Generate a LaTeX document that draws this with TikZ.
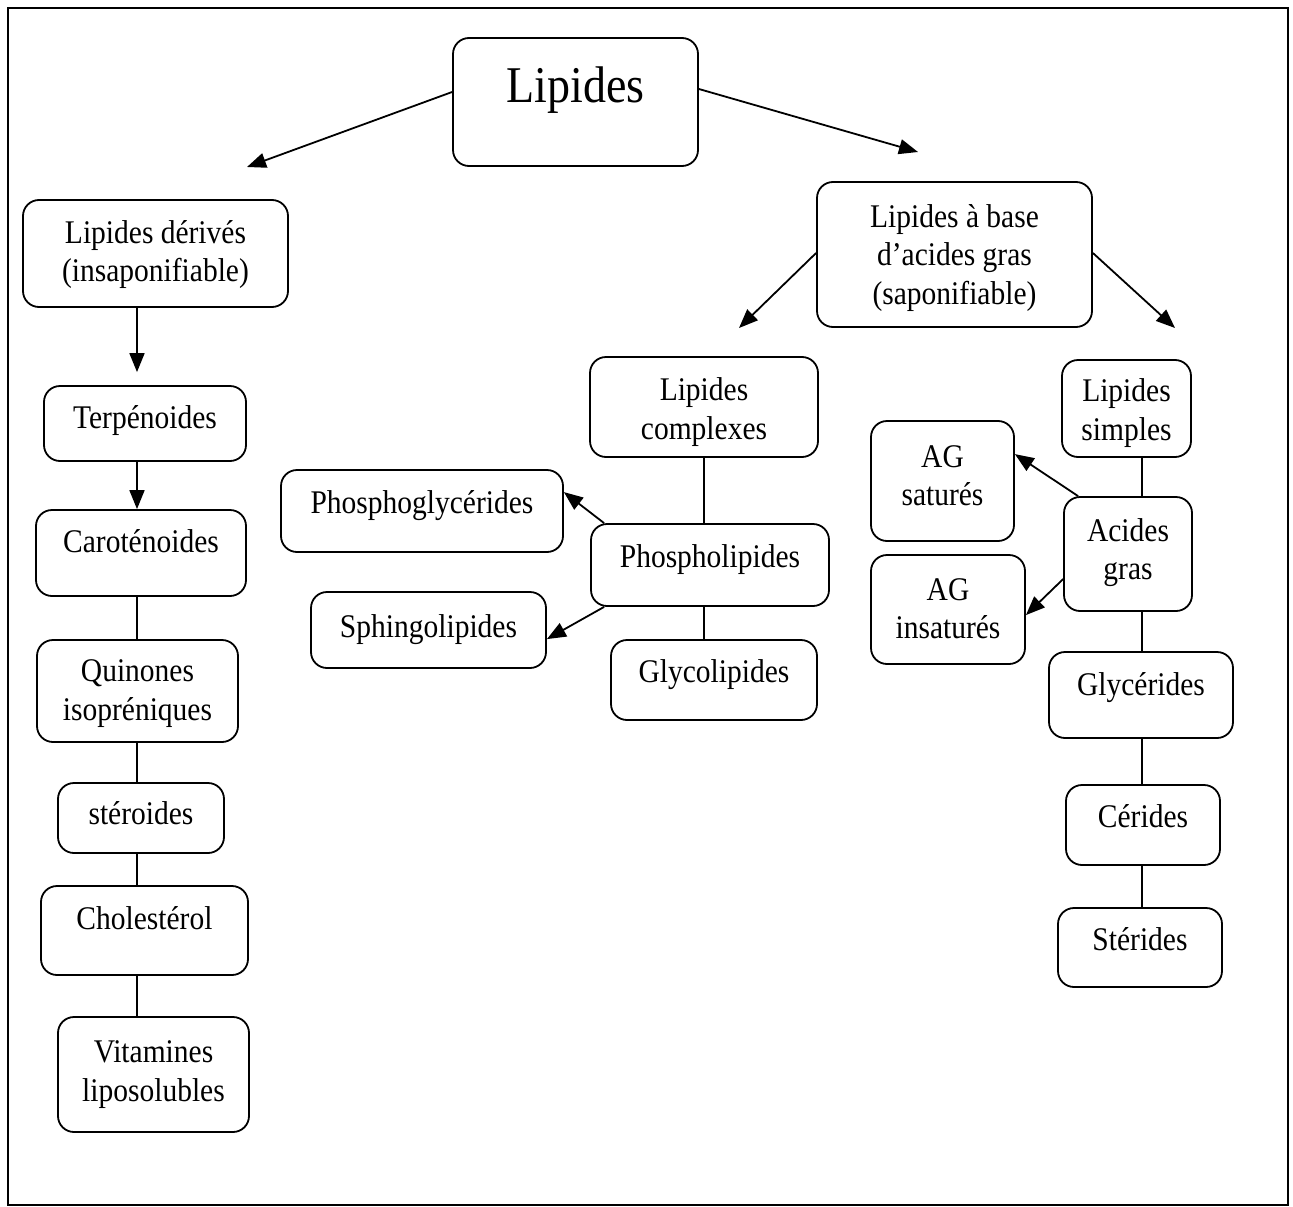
\documentclass[tikz,border=0pt]{standalone}
\usepackage{fontspec}
\setmainfont{Liberation Serif}
\usepackage{graphicx}
\usetikzlibrary{arrows.meta,calc}
\newcommand\bx[2]{\raisebox{#1}[\height][\depth]{\scalebox{1}[1.12]{\begin{tabular}{@{}c@{}}#2\end{tabular}}}}
\begin{document}
\begin{tikzpicture}[x=1pt,y=-1pt,
  box/.style={draw, line width=1.8pt, rounded corners=16pt, inner sep=0pt,
              font=\fontsize{29.5}{34.4}\selectfont},
  arr/.style={line width=1.8pt, -{Triangle[length=19pt,width=15pt]}},
  ln/.style={line width=1.8pt}]
\useasboundingbox (0,0) rectangle (1293,1207);
\draw[line width=1.3pt] (8,8) rectangle (1288,1205);

% top
\node[box, minimum width=245pt, minimum height=128pt] (L0) at (575.5,102) {\bx{12pt}{\fontsize{46}{50}\selectfont Lipides}};
\node[box, minimum width=265pt, minimum height=107pt] (LD) at (155.5,253.5) {\bx{-1.5pt}{Lipides dérivés\\(insaponifiable)}};
\node[box, minimum width=275pt, minimum height=145pt] (LB) at (954.5,254.5) {\bx{-3.5pt}{Lipides à base\\d’acides gras\\(saponifiable)}};

% left column
\node[box, minimum width=202pt, minimum height=75pt] (T) at (145,423.5) {\bx{2.5pt}{Terpénoides}};
\node[box, minimum width=210pt, minimum height=86pt] (C) at (141,553) {\bx{8pt}{Caroténoides}};
\node[box, minimum width=201pt, minimum height=102pt] (Q) at (137.5,691) {\bx{-2.5pt}{Quinones\\isopréniques}};
\node[box, minimum width=166pt, minimum height=70pt] (S) at (141,818) {\bx{1pt}{stéroides}};
\node[box, minimum width=207pt, minimum height=89pt] (Ch) at (144.5,930.5) {\bx{8.5pt}{Cholestérol}};
\node[box, minimum width=191pt, minimum height=115pt] (V) at (153.5,1074.5) {\bx{0pt}{Vitamines\\liposolubles}};

% middle
\node[box, minimum width=228pt, minimum height=100pt] (LC) at (704,407) {\bx{-5.5pt}{Lipides\\complexes}};
\node[box, minimum width=282pt, minimum height=82pt] (PG) at (422,511) {\bx{5pt}{Phosphoglycérides}};
\node[box, minimum width=238pt, minimum height=82pt] (PL) at (710,565) {\bx{5pt}{Phospholipides}};
\node[box, minimum width=235pt, minimum height=76pt] (SP) at (428.5,630) {\bx{0pt}{Sphingolipides}};
\node[box, minimum width=206pt, minimum height=80pt] (GL) at (714,680) {\bx{5pt}{Glycolipides}};

% right
\node[box, minimum width=129pt, minimum height=97pt] (LS) at (1126.5,408.5) {\bx{-5pt}{Lipides\\simples}};
\node[box, minimum width=143pt, minimum height=120pt] (AGS) at (942.5,481) {\bx{2pt}{AG\\saturés}};
\node[box, minimum width=128pt, minimum height=114pt] (AG) at (1128,554) {\bx{1pt}{Acides\\gras}};
\node[box, minimum width=154pt, minimum height=109pt] (AGI) at (948,609.5) {\bx{-2.5pt}{AG\\insaturés}};
\node[box, minimum width=184pt, minimum height=86pt] (GY) at (1141,695) {\bx{7pt}{Glycérides}};
\node[box, minimum width=154pt, minimum height=80pt] (CE) at (1143,825) {\bx{5pt}{Cérides}};
\node[box, minimum width=164pt, minimum height=79pt] (ST) at (1140,947.5) {\bx{4.5pt}{Stérides}};

% helper coordinates
\coordinate (cl) at (137,0);
\coordinate (cm) at (704,0);
\coordinate (cr) at (1142,0);
\coordinate (tL) at (247,167);
\coordinate (tR) at (918,152);
\coordinate (tB1) at (739,328);
\coordinate (tB2) at (1175,328);

% connectors
\draw[arr] ([yshift=10pt]L0.west) -- (tL);
\draw[arr] ([yshift=13pt]L0.east) -- (tR);
\draw[arr] ([yshift=1.5pt]LB.west) -- (tB1);
\draw[arr] ([yshift=1.5pt]LB.east) -- (tB2);

\draw[arr, shorten >=13pt] (LD.south -| cl) -- (T.north -| cl);
\draw[arr] (T.south -| cl) -- (C.north -| cl);
\draw[ln] (C.south -| cl) -- (Q.north -| cl);
\draw[ln] (Q.south -| cl) -- (S.north -| cl);
\draw[ln] (S.south -| cl) -- (Ch.north -| cl);
\draw[ln] (Ch.south -| cl) -- (V.north -| cl);

\draw[ln] (LC.south -| cm) -- (PL.north -| cm);
\draw[ln] (PL.south -| cm) -- (GL.north -| cm);
\draw[arr] ([xshift=14pt]PL.north west) -- ([yshift=-23pt]PG.north east);
\draw[arr] ([xshift=14pt]PL.south west) -- ([yshift=-48pt]SP.north east);

\draw[ln] (LS.south -| cr) -- (AG.north -| cr);
\draw[ln] (AG.south -| cr) -- (GY.north -| cr);
\draw[ln] (GY.south -| cr) -- (CE.north -| cr);
\draw[ln] (CE.south -| cr) -- (ST.north -| cr);
\draw[arr] ([xshift=15pt]AG.north west) -- ([yshift=-34pt]AGS.north east);
\draw[arr] ([yshift=-83pt]AG.north west) -- ([yshift=-61pt]AGI.north east);
\end{tikzpicture}
\end{document}
